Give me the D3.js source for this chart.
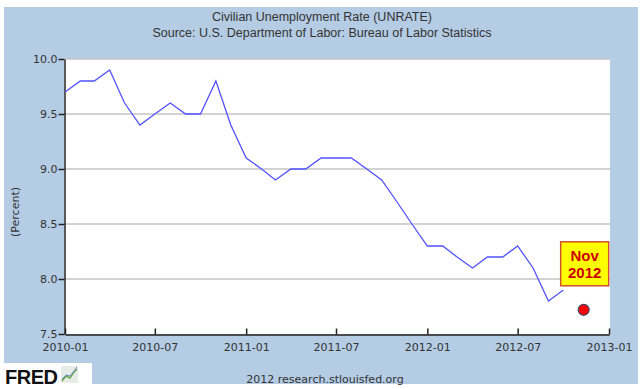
<!DOCTYPE html>
<html>
<head>
<meta charset="utf-8">
<script src="https://cdn.jsdelivr.net/npm/d3@7"></script>
<style>
  html, body { margin: 0; padding: 0; background: #ffffff; }
  svg { display: block; }
</style>
</head>
<body>
<svg id="chart" width="640" height="389"></svg>
<script>
// ---- data ----
const months = [
  "2010-01","2010-02","2010-03","2010-04","2010-05","2010-06","2010-07","2010-08","2010-09","2010-10","2010-11","2010-12",
  "2011-01","2011-02","2011-03","2011-04","2011-05","2011-06","2011-07","2011-08","2011-09","2011-10","2011-11","2011-12",
  "2012-01","2012-02","2012-03","2012-04","2012-05","2012-06","2012-07","2012-08","2012-09","2012-10"
];
const rates = [
  9.7, 9.8, 9.8, 9.9, 9.6, 9.4, 9.5, 9.6, 9.5, 9.5, 9.8, 9.4,
  9.1, 9.0, 8.9, 9.0, 9.0, 9.1, 9.1, 9.1, 9.0, 8.9, 8.7, 8.5,
  8.3, 8.3, 8.2, 8.1, 8.2, 8.2, 8.3, 8.1, 7.8, 7.9
];
const xTickLabels = ["2010-01","2010-07","2011-01","2011-07","2012-01","2012-07","2013-01"];
const yTickValues = [7.5, 8.0, 8.5, 9.0, 9.5, 10.0];
const highlightDate = "2012-11-11";
const highlightValue = 7.72;
const highlightLabel = ["Nov", "2012"];
const titleLines = ["Civilian Unemployment Rate (UNRATE)", "Source: U.S. Department of Labor: Bureau of Labor Statistics"];
const yAxisTitle = "(Percent)";
const footerText = "2012 research.stlouisfed.org";

(function () {
// ---- layout ----
const svg = d3.select("#chart");
const parse = d3.timeParse("%Y-%m");
const parseDay = d3.timeParse("%Y-%m-%d");
const pLeft = 65, pRight = 609, pTop = 59, pBottom = 334;

svg.append("rect").attr("x", 4).attr("y", 7).attr("width", 634).attr("height", 377).attr("fill", "#b4cce4");

const x = d3.scaleTime().domain([parse("2010-01"), parse("2013-01")]).range([pLeft, pRight]);
const y = d3.scaleLinear().domain([7.5, 10.0]).range([pBottom, pTop]);

// plot background
svg.append("rect").attr("x", pLeft - 1).attr("y", pTop).attr("width", pRight - pLeft + 2).attr("height", pBottom - pTop).attr("fill", "#ffffff");

// grid lines
svg.append("g").selectAll("line").data(yTickValues.filter(v => v > 7.5)).join("line")
  .attr("x1", pLeft).attr("x2", pRight + 1)
  .attr("y1", d => y(d)).attr("y2", d => y(d))
  .attr("stroke", "#c4c4c4").attr("stroke-width", 1.5);

// titles
svg.append("g").selectAll("text").data(titleLines).join("text")
  .attr("x", 322).attr("y", (d, i) => 21 + i * 15.5)
  .attr("text-anchor", "middle")
  .attr("font-family", "Liberation Sans, Arial, sans-serif")
  .attr("font-size", 12.5).attr("fill", "#333333")
  .text(d => d);

// y axis
const yAxis = svg.append("g").attr("transform", `translate(${pLeft - 0.5},0)`)
  .call(d3.axisLeft(y).tickValues(yTickValues).tickFormat(d3.format(".1f")).tickSize(6).tickSizeOuter(0));
yAxis.select(".domain").attr("stroke", "#222").attr("stroke-width", 1.5);
yAxis.selectAll(".tick line").attr("stroke", "#222").attr("stroke-width", 1.5);
yAxis.selectAll(".tick text").attr("font-family", "DejaVu Sans, Verdana, sans-serif")
  .attr("font-size", 11).attr("fill", "#333").attr("x", -7);

// x axis
const xAxis = svg.append("g").attr("transform", `translate(0,${pBottom + 0.5})`)
  .call(d3.axisBottom(x).tickValues(xTickLabels.map(parse)).tickFormat(d3.timeFormat("%Y-%m")).tickSize(-6).tickSizeOuter(0));
xAxis.select(".domain").attr("stroke", "#222").attr("stroke-width", 1.5);
xAxis.selectAll(".tick line").attr("stroke", "#222").attr("stroke-width", 1.5);
xAxis.selectAll(".tick text").attr("font-family", "DejaVu Sans, Verdana, sans-serif")
  .attr("font-size", 11).attr("fill", "#333").attr("y", 9).attr("dy", "0.71em");

// y axis title
svg.append("text")
  .attr("transform", "translate(19,212) rotate(-90)")
  .attr("text-anchor", "middle")
  .attr("font-family", "DejaVu Sans, Verdana, sans-serif")
  .attr("font-size", 11).attr("fill", "#333")
  .text(yAxisTitle);

// line
const series = months.map((m, i) => ({ date: parse(m), value: rates[i] }));
svg.append("path").datum(series)
  .attr("fill", "none").attr("stroke", "#5252ff").attr("stroke-width", 1.3)
  .attr("d", d3.line().x(d => x(d.date)).y(d => y(d.value)));

// highlight point
const hd = parseDay(highlightDate);
svg.append("circle").attr("cx", x(hd)).attr("cy", y(highlightValue)).attr("r", 5.5)
  .attr("fill", "#ff0000").attr("stroke", "#3a4a6a").attr("stroke-width", 1.2);

// annotation box
const bx = x(hd) - 23, by = y(highlightValue) - 68;
svg.append("rect").attr("x", bx).attr("y", by).attr("width", 48).attr("height", 44)
  .attr("fill", "#ffff00").attr("stroke", "#d05030").attr("stroke-width", 1.5);
svg.append("g").selectAll("text").data(highlightLabel).join("text")
  .attr("x", bx + 24).attr("y", (d, i) => by + 19 + i * 17)
  .attr("text-anchor", "middle")
  .attr("font-family", "Liberation Sans, Arial, sans-serif")
  .attr("font-weight", "bold").attr("font-size", 15).attr("fill", "#cc0000")
  .text(d => d);

// footer
svg.append("rect").attr("x", 4).attr("y", 363).attr("width", 88).attr("height", 26).attr("fill", "#ffffff");
svg.append("text").attr("x", 5).attr("y", 384)
  .attr("font-family", "Liberation Sans, Arial, sans-serif").attr("font-weight", "bold")
  .attr("font-size", 20).attr("fill", "#111").attr("letter-spacing", -0.5)
  .text("FRED");
const icon = svg.append("g").attr("transform", "translate(61,366)");
icon.append("rect").attr("width", 17).attr("height", 17).attr("fill", "#e8ece8");
icon.append("path").attr("d", "M1,15 L5,10 L9,12 L13,6 L16,3").attr("fill", "none").attr("stroke", "#6aa84f").attr("stroke-width", 1.5);
icon.append("path").attr("d", "M1,13 L5,9 L9,10 L13,5 L16,1").attr("fill", "none").attr("stroke", "#6f8fc7").attr("stroke-width", 1);

svg.append("text").attr("x", 325).attr("y", 383)
  .attr("text-anchor", "middle")
  .attr("font-family", "DejaVu Sans, Verdana, sans-serif")
  .attr("font-size", 11).attr("fill", "#333")
  .text(footerText);
})();
</script>
</body>
</html>
